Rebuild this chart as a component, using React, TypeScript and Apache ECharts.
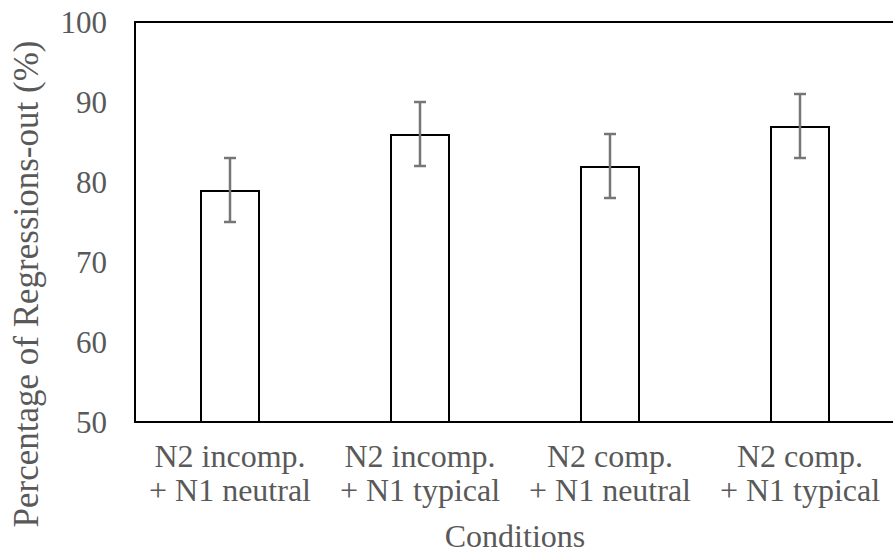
import React, { useEffect, useRef } from "react";
import * as echarts from "echarts";

const categories = [
  "N2 incomp.\n+ N1 neutral",
  "N2 incomp.\n+ N1 typical",
  "N2 comp.\n+ N1 neutral",
  "N2 comp.\n+ N1 typical",
];
const means = [79, 86, 82, 87];
const errLow = [75, 82, 78, 83];
const errHigh = [83, 90, 86, 91];
const yTicks = { min: 50, max: 100, interval: 10 };
const yTitle = "Percentage of Regressions-out (%)";
const xTitle = "Conditions";

export default function App() {
  const ref = useRef<HTMLDivElement>(null);
  useEffect(() => {
    const chart = echarts.init(ref.current!, null, { renderer: "svg" });
    const font = "Liberation Serif";
    const grey = "#595959";
    chart.setOption({
      animation: false,
      textStyle: { fontFamily: font },
      grid: {
        left: 135,
        top: 22,
        width: 760,
        height: 400,
        show: false,
        containLabel: false,
        outerBoundsMode: "none",
      },
      graphic: [
        {
          type: "text",
          x: 26,
          y: 284,
          rotation: Math.PI / 2,
          style: {
            text: yTitle,
            fill: grey,
            font: "35px 'Liberation Serif'",
            align: "center",
            verticalAlign: "middle",
          },
        },
      ],
      xAxis: [
        {
          type: "category",
          data: categories,
          axisLine: { show: true, lineStyle: { color: "#000", width: 2 } },
          axisTick: { show: false },
          axisLabel: {
            color: grey,
            fontFamily: font,
            fontSize: 32,
            lineHeight: 34,
            margin: 17,
            interval: 0,
          },
          name: xTitle,
          nameLocation: "middle",
          nameGap: 98,
          nameTextStyle: { color: grey, fontFamily: font, fontSize: 32 },
        },
        {
          type: "category",
          position: "top",
          data: categories,
          axisLine: { show: true, lineStyle: { color: "#000", width: 2 } },
          axisTick: { show: false },
          axisLabel: { show: false },
        },
      ],
      yAxis: {
        type: "value",
        min: yTicks.min,
        max: yTicks.max,
        interval: yTicks.interval,
        splitLine: { show: false },
        axisLine: { show: true, lineStyle: { color: "#000", width: 2 } },
        axisTick: { show: false },
        axisLabel: {
          color: grey,
          fontFamily: font,
          fontSize: 31,
          margin: 28,
        },
      },
      series: [
        {
          type: "bar",
          data: means,
          barWidth: 60,
          itemStyle: { color: "#fff", borderColor: "#000", borderWidth: 2 },
        },
        {
          type: "custom",
          data: categories.map((_, i) => [i, errLow[i], errHigh[i]]),
          renderItem: (params: any, api: any) => {
            const i = api.value(0);
            const lo = api.coord([i, api.value(1)]);
            const hi = api.coord([i, api.value(2)]);
            const half = 6;
            const style = { stroke: "#767676", lineWidth: 2.5 };
            return {
              type: "group",
              children: [
                { type: "line", shape: { x1: lo[0], y1: lo[1], x2: hi[0], y2: hi[1] }, style },
                { type: "line", shape: { x1: hi[0] - half, y1: hi[1], x2: hi[0] + half, y2: hi[1] }, style },
                { type: "line", shape: { x1: lo[0] - half, y1: lo[1], x2: lo[0] + half, y2: lo[1] }, style },
              ],
            };
          },
          z: 10,
        },
      ],
    });
    return () => chart.dispose();
  }, []);
  return <div ref={ref} style={{ width: 893, height: 553, position: "absolute", left: 0, top: 0 }} />;
}
